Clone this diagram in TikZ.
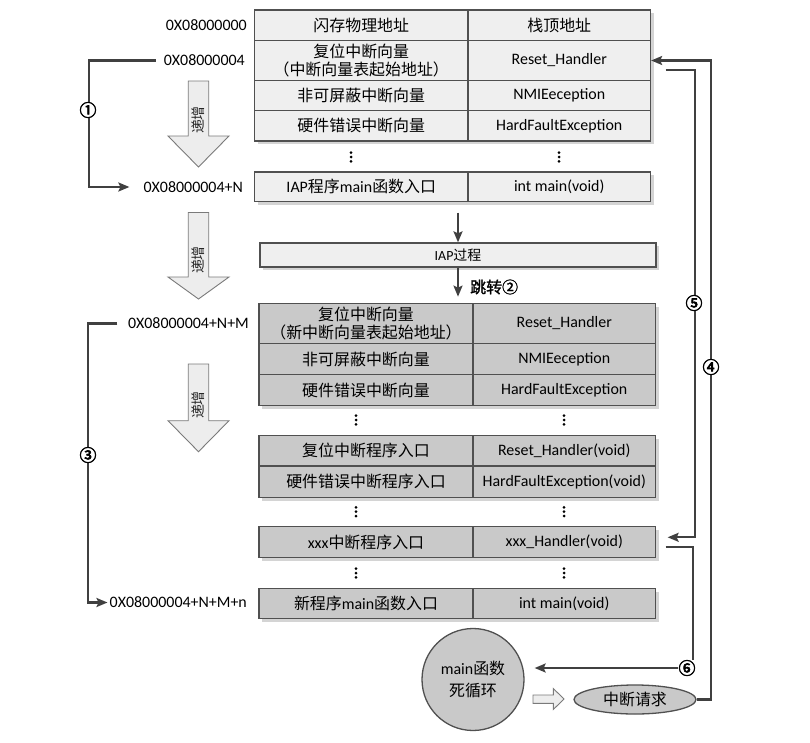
\documentclass[tikz,border=0pt]{standalone}
\usepackage{fontspec}
\setmainfont{Carlito}
\newfontfamily\cjk{Noto Sans CJK SC}
\newfontfamily\cjkb[FakeBold=1.5]{Noto Sans CJK SC}
\newfontfamily\cjkn[FakeBold=3.5]{Noto Sans CJK SC}
\usetikzlibrary{arrows.meta,shapes.geometric,calc}
\definecolor{bordc}{HTML}{505050}
\definecolor{lnc}{HTML}{404040}
\definecolor{fillA}{HTML}{EFEFEF}
\definecolor{fillB}{HTML}{C9C9C9}
\definecolor{shad}{HTML}{D4D4D4}
\definecolor{barfill}{HTML}{EDEDED}
\definecolor{barbord}{HTML}{7A7A7A}
\newcommand\mycell[7]{\node[#2, minimum width=#5bp, minimum height=#6bp] (#1) at (#3,#4) {#7};}
\newcommand\blockarrow[4]{%
  \filldraw[barrow] (#1-10.25,#2) -- (#1+10.25,#2) -- (#1+10.25,#3) -- (#1+30.5,#3) -- (#1,#4) -- (#1-30.5,#3) -- (#1-10.25,#3) -- cycle;}
\newcommand\vdotsat[2]{\fill[black] (#1,#2-4.3) circle (1.5) (#1,#2) circle (1.5) (#1,#2+4.3) circle (1.5);}
\begin{document}
\begin{tikzpicture}[x=1bp,y=-1bp,
  base/.style={font=\fontsize{16}{19}\selectfont, inner sep=0pt, align=center, text=black},
  tA/.style={base, draw=bordc, fill=fillA, line width=1.3bp},
  tB/.style={base, draw=bordc, fill=fillB, line width=1.3bp},
  addr/.style={base, anchor=east},
  conn/.style={draw=lnc, line width=2.1bp, -{Stealth[length=11bp,width=9bp,inset=2bp]}},
  num/.style={font=\cjkn\fontsize{17}{17}\selectfont, fill=white, inner sep=0.6bp},
  barrow/.style={fill=barfill, draw=barbord, line width=0.9bp},
  bartext/.style={font=\cjk\fontsize{14}{14}\selectfont, rotate=90, inner sep=0pt, text=black!85}
]
\useasboundingbox (0,0) rectangle (810,743);

% shadows
\fill[shad] (257.5,13) rectangle (653.5,144);
\fill[shad] (257.5,175) rectangle (653.5,204.5);
\fill[shad] (263,246) rectangle (659,270);
\fill[shad] (262,306.5) rectangle (658.5,408.5);
\fill[shad] (262,438.5) rectangle (658.5,500.5);
\fill[shad] (262,529.5) rectangle (658.5,560.5);
\fill[shad] (262,591.5) rectangle (658.5,621.5);

% top table
\mycell{t0l}{tA}{361.25}{25.25}{213.5}{30.5}{{\cjk 闪存物理地址}}
\mycell{t0r}{tA}{559.25}{25.25}{182.5}{30.5}{{\cjk 栈顶地址}}
\mycell{t1l}{tA}{361.25}{60.5}{213.5}{40}{{\cjk 复位中断向量}\\{\cjk （中断向量表起始地址）}}
\mycell{t1r}{tA}{559.25}{60.5}{182.5}{40}{Reset\_Handler}
\mycell{t2l}{tA}{361.25}{95.5}{213.5}{30}{{\cjk 非可屏蔽中断向量}}
\mycell{t2r}{tA}{559.25}{95.5}{182.5}{30}{NMIEeception}
\mycell{t3l}{tA}{361.25}{125.75}{213.5}{30.5}{{\cjk 硬件错误中断向量}}
\mycell{t3r}{tA}{559.25}{125.75}{182.5}{30.5}{HardFaultException}
\vdotsat{351}{157}
\vdotsat{559}{157}
\mycell{t4l}{tA}{361.25}{186.75}{213.5}{29.5}{IAP{\cjk 程序}main{\cjk 函数入口}}
\mycell{t4r}{tA}{559.25}{186.75}{182.5}{29.5}{int main(void)}

\node[tA, font=\fontsize{14}{14}\selectfont, minimum width=396bp, minimum height=24bp] (iap) at (458,255) {IAP{\cjk 过程}};

% second table
\mycell{bAl}{tB}{366}{323.5}{214}{40}{{\cjk 复位中断向量}\\{\cjk （新中断向量表起始地址）}}
\mycell{bAr}{tB}{564.25}{323.5}{182.5}{40}{Reset\_Handler}
\mycell{bBl}{tB}{366}{359}{214}{31}{{\cjk 非可屏蔽中断向量}}
\mycell{bBr}{tB}{564.25}{359}{182.5}{31}{NMIEeception}
\mycell{bCl}{tB}{366}{390}{214}{31}{{\cjk 硬件错误中断向量}}
\mycell{bCr}{tB}{564.25}{390}{182.5}{31}{HardFaultException}
\vdotsat{356}{420}
\vdotsat{564}{420}
\mycell{bDl}{tB}{366}{450.75}{214}{30.5}{{\cjk 复位中断程序入口}}
\mycell{bDr}{tB}{564.25}{450.75}{182.5}{30.5}{Reset\_Handler(void)}
\mycell{bEl}{tB}{366}{481.75}{214}{31.5}{{\cjk 硬件错误中断程序入口}}
\mycell{bEr}{tB}{564.25}{481.75}{182.5}{31.5}{HardFaultException(void)}
\vdotsat{356}{511.7}
\vdotsat{564}{511.7}
\mycell{bFl}{tB}{366}{542}{214}{31}{xxx{\cjk 中断程序入口}}
\mycell{bFr}{tB}{564.25}{542}{182.5}{31}{xxx\_Handler(void)}
\vdotsat{356}{573}
\vdotsat{564}{573}
\mycell{bGl}{tB}{366}{603.5}{214}{30}{{\cjk 新程序}main{\cjk 函数入口}}
\mycell{bGr}{tB}{564.25}{603.5}{182.5}{30}{int main(void)}

% address labels
\node[addr] (a0) at (247,25) {0X08000000};
\node[addr] (a1) at (245,60.5) {0X08000004};
\node[addr] (a2) at (243,187) {0X08000004+N};
\node[addr] (a3) at (249,323.5) {0X08000004+N+M};
\node[addr] (a4) at (247,602.5) {0X08000004+N+M+n};

% block arrows
\blockarrow{198.5}{81}{136}{167}
\node[bartext] (inc1) at (198.5,120) {递增};
\blockarrow{198.5}{212.5}{277}{299}
\node[bartext] (inc2) at (198.5,260) {递增};
\blockarrow{198.5}{364}{420.7}{451.7}
\node[bartext] (inc3) at (198.5,405) {递增};

% bottom shapes
\node[base, circle, draw=bordc, fill=fillB, line width=1.3bp, minimum size=102bp, font=\fontsize{16}{23}\selectfont] (loop) at (473,679.5) {main{\cjk 函数}\\{\cjk 死循环}};
\node[base, ellipse, draw=bordc, fill=fillB, line width=1.3bp, minimum width=122bp, minimum height=29bp] (req) at (635,699.5) {{\cjk 中断请求}};
\filldraw[barrow] (533,695) -- (553.3,695) -- (553.3,688.5) -- (564,699) -- (553.3,709.5) -- (553.3,703.3) -- (533,703.3) -- cycle;

% left brackets
\draw[conn] ([xshift=-8bp]a1.west) -- ++(-67,0) |- ([xshift=-14bp]a2.west);
\node[num] (n1) at (88,110) {①};
\draw[conn] ([xshift=-10.5bp]a3.west) -- ++(-29,0) |- ([xshift=-2bp]a4.west);
\node[num] (n3) at (88,455) {③};

% IAP flow
\draw[conn] ($(iap.north |- t4l.south)+(0,10.5)$) -- (iap.north);
\draw[conn] (iap.south) -- ($(iap.south -| iap.north)+(0,29)$);
\node[base, font=\cjkb\fontsize{16}{16}\selectfont, anchor=west] (jump) at (470,287) {跳转②};

% right side
\draw[conn] (req.east) -| (711,60.5) -- (t1r.east);
\node[num] (n4) at (711,367) {④};
\draw[conn] ($(t1r.east)+(14.5,9.8)$) -| ($(bFr.east)+(38.5,-4.7)$) -- ($(bFr.east)+(11.5,-4.7)$);
\node[num] (n5) at (694,303) {⑤};
\draw[conn] ($(bFr.east)+(9.5,4.7)$) -| ($(loop.east)+(168,-11.5)$) -- ($(loop.east)+(10,-11.5)$);
\node[num] (n6) at (687,668) {⑥};
\end{tikzpicture}
\end{document}
